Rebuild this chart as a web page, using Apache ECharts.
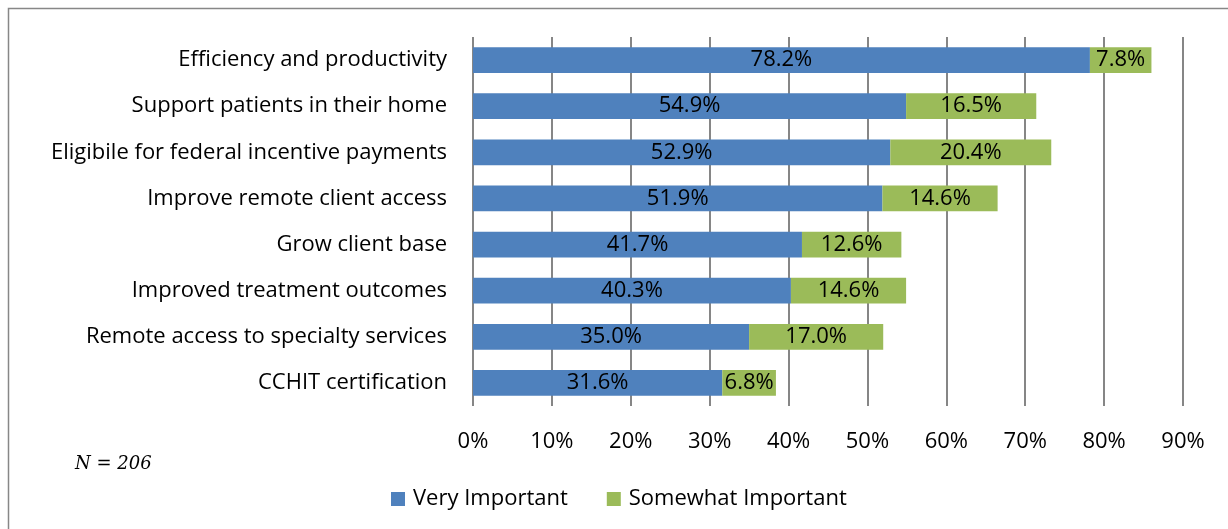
<!DOCTYPE html>
<html><head><meta charset="utf-8">
<script src="https://cdn.jsdelivr.net/npm/echarts@6/dist/echarts.min.js"></script>
<style>html,body{margin:0;padding:0;background:#fff}#c{width:1228px;height:529px}</style>
</head><body><div id="c"></div>
<script>
const categories = ["Efficiency and productivity","Support patients in their home","Eligibile for federal incentive payments","Improve remote client access","Grow client base","Improved treatment outcomes","Remote access to specialty services","CCHIT certification"];
const veryImportant = [78.2,54.9,52.9,51.9,41.7,40.3,35.0,31.6];
const somewhatImportant = [7.8,16.5,20.4,14.6,12.6,14.6,17.0,6.8];
const xTicks = [0,10,20,30,40,50,60,70,80,90];
const FONT = 'Open Sans';
const FS = 22;
const chart = echarts.init(document.getElementById('c'));
const lbl = {show:true, position:'inside', color:'#000', fontFamily:FONT, fontSize:FS, padding:[4,0,0,0], formatter:p=>p.value.toFixed(1)+'%'};
chart.setOption({
  animation:false,
  textStyle:{fontFamily:FONT},
  graphic:[
    {type:'rect', shape:{x:8.5,y:8.5,width:1300,height:600}, style:{fill:'none',stroke:'#878787',lineWidth:1.5}, silent:true},
    {type:'text', left:75, top:455, style:{text:'N = 206', font:'italic 18px "DejaVu Serif"', fill:'#000'}}
  ],
  legend:{top:483, left:386, itemWidth:14, itemHeight:14, itemGap:39, icon:'rect',
    textStyle:{fontFamily:FONT,fontSize:FS,color:'#000', padding:[0,0,0,3]}, data:['Very Important','Somewhat Important']},
  grid:{left:473, right:45, top:37, height:369, containLabel:false},
  xAxis:{type:'value', min:0, max:90, interval:10,
    axisLine:{show:false}, axisTick:{show:false},
    splitLine:{show:true, lineStyle:{color:'#868686', width:2}},
    axisLabel:{fontFamily:FONT, fontSize:FS, color:'#000', margin:25, formatter:v=>v+'%'}},
  yAxis:{type:'category', inverse:true, data:categories,
    axisLine:{show:false}, axisTick:{show:false},
    axisLabel:{fontFamily:FONT, fontSize:FS, color:'#000', margin:26, padding:[4,0,0,0]}},
  series:[
    {name:'Very Important', type:'bar', stack:'a', data:veryImportant, barCategoryGap:'44%', itemStyle:{color:'#4F81BD'}, label:lbl},
    {name:'Somewhat Important', type:'bar', stack:'a', data:somewhatImportant, itemStyle:{color:'#9BBB59'}, label:lbl}
  ]
});
</script></body></html>
